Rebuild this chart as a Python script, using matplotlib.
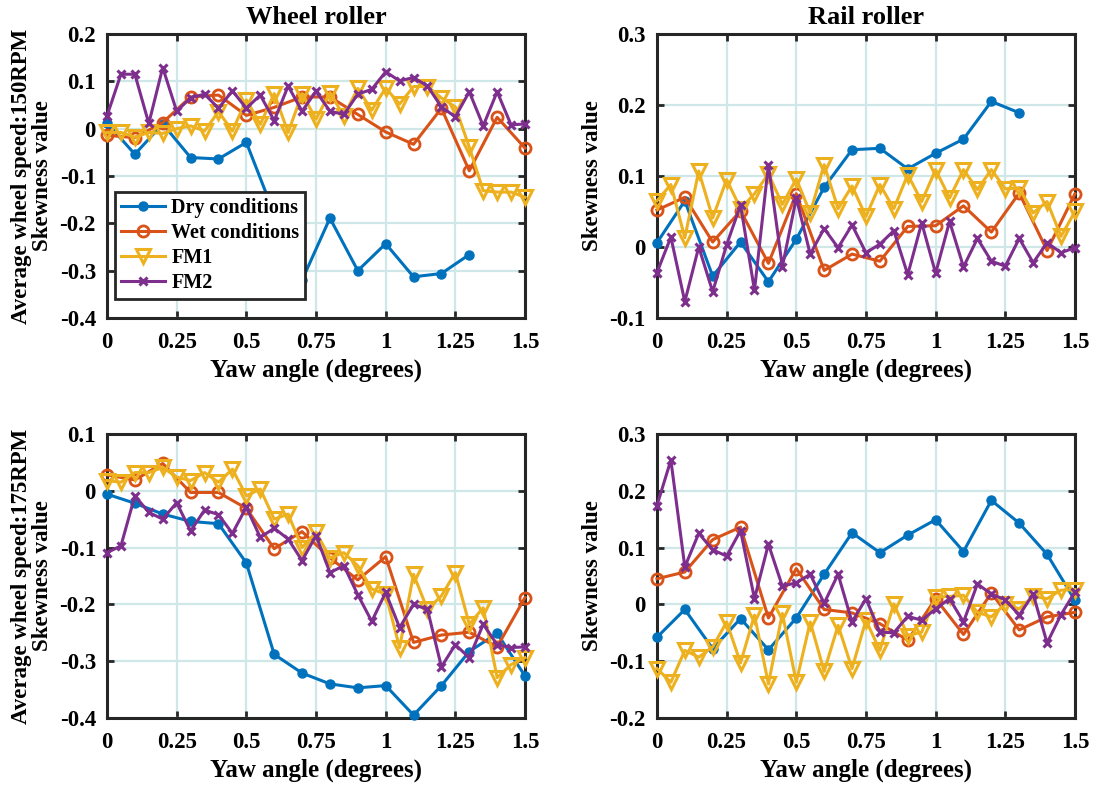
import numpy as np
import matplotlib
matplotlib.use("Agg")
import matplotlib.pyplot as plt

plt.rcParams['font.family'] = ['Liberation Serif', 'DejaVu Serif']
plt.rcParams['font.weight'] = 'bold'

# yaw angles
x_coarse = [0.0, 0.1, 0.2, 0.3, 0.4, 0.5, 0.6, 0.7, 0.8, 0.9, 1.0, 1.1, 1.2, 1.3, 1.4, 1.5]
x_fine = [0.0, 0.05, 0.1, 0.15, 0.2, 0.25, 0.3, 0.35, 0.4, 0.45, 0.5, 0.55, 0.6, 0.65, 0.7,
          0.75, 0.8, 0.85, 0.9, 0.95, 1.0, 1.05, 1.1, 1.15, 1.2, 1.25, 1.3, 1.35, 1.4, 1.45, 1.5]

# 150 RPM, wheel roller
dry_150_wheel = [0.012, -0.054, 0.01, -0.061, -0.064, -0.029, -0.18, -0.32, -0.189, -0.30,
                 -0.243, -0.313, -0.306, -0.266]
wet_150_wheel = [-0.014, -0.019, 0.013, 0.067, 0.071, 0.028, 0.045, 0.067, 0.067, 0.03,
                 -0.007, -0.033, 0.043, -0.089, 0.024, -0.041]
fm1_150_wheel = [-0.008, -0.008, -0.018, -0.008, -0.01, 0.0, 0.006, -0.005, 0.036, -0.005,
                 0.061, 0.009, 0.074, -0.008, 0.074, 0.02, 0.076, 0.027, 0.085, 0.039,
                 0.086, 0.052, 0.089, 0.089, 0.065, 0.046, -0.039, -0.131, -0.134, -0.134, -0.145]
fm2_150_wheel = [0.027, 0.115, 0.115, 0.011, 0.129, 0.037, 0.065, 0.073, 0.043, 0.080,
                 0.043, 0.071, 0.017, 0.090, 0.037, 0.079, 0.037, 0.030, 0.073, 0.083,
                 0.120, 0.101, 0.108, 0.090, 0.046, 0.025, 0.078, 0.006, 0.078, 0.008, 0.010]

# 150 RPM, rail roller
dry_150_rail = [0.006, 0.065, -0.041, 0.007, -0.049, 0.011, 0.084, 0.137, 0.139, 0.110,
                0.132, 0.152, 0.205, 0.189]
wet_150_rail = [0.052, 0.070, 0.007, 0.051, -0.023, 0.075, -0.033, -0.010, -0.020, 0.029,
                0.030, 0.058, 0.021, 0.076, -0.005, 0.075]
fm1_150_rail = [0.065, 0.088, 0.013, 0.107, 0.041, 0.095, 0.054, 0.075, 0.103, 0.060,
                0.096, 0.048, 0.116, 0.054, 0.086, 0.043, 0.088, 0.054, 0.102, 0.064,
                0.109, 0.069, 0.109, 0.081, 0.109, 0.082, 0.083, 0.048, 0.064, 0.015, 0.050]
fm2_150_rail = [-0.036, 0.014, -0.077, 0.0, -0.063, 0.003, 0.059, -0.061, 0.116, -0.028,
                0.069, -0.010, 0.026, -0.001, 0.031, -0.008, 0.004, 0.023, -0.039, 0.034,
                -0.037, 0.036, -0.028, 0.012, -0.020, -0.027, 0.012, -0.022, 0.006, -0.008, -0.001]

# 175 RPM, wheel roller
dry_175_wheel = [-0.006, -0.022, -0.041, -0.054, -0.058, -0.127, -0.288, -0.321, -0.340,
                 -0.347, -0.343, -0.395, -0.343, -0.283, -0.251, -0.326]
wet_175_wheel = [0.028, 0.019, 0.048, -0.003, -0.003, -0.031, -0.102, -0.072, -0.118,
                 -0.157, -0.116, -0.267, -0.254, -0.249, -0.275, -0.188]
fm1_175_wheel = [0.018, 0.015, 0.032, 0.032, 0.041, 0.024, 0.018, 0.032, 0.015, 0.038,
                 -0.009, 0.003, -0.05, -0.041, -0.1, -0.073, -0.118, -0.109, -0.132, -0.173,
                 -0.182, -0.276, -0.147, -0.209, -0.185, -0.144, -0.235, -0.206, -0.329, -0.306, -0.294]
fm2_175_wheel = [-0.109, -0.097, -0.009, -0.038, -0.05, -0.021, -0.071, -0.034, -0.042, -0.075,
                 -0.029, -0.082, -0.066, -0.085, -0.123, -0.079, -0.144, -0.132, -0.183, -0.230,
                 -0.179, -0.241, -0.2, -0.209, -0.310, -0.271, -0.294, -0.235, -0.271, -0.276, -0.275]

# 175 RPM, rail roller
dry_175_rail = [-0.058, -0.009, -0.078, -0.025, -0.080, -0.024, 0.053, 0.126, 0.091, 0.122,
                0.149, 0.093, 0.183, 0.143, 0.088, 0.007]
wet_175_rail = [0.045, 0.057, 0.114, 0.136, -0.024, 0.063, -0.009, -0.015, -0.034, -0.063,
                0.010, -0.053, 0.020, -0.045, -0.022, -0.014]
fm1_175_rail = [-0.113, -0.137, -0.081, -0.093, -0.075, -0.031, -0.103, -0.019, -0.140, -0.016,
                -0.137, -0.031, -0.118, -0.037, -0.113, -0.028, -0.081, 0.001, -0.055, -0.049,
                0.013, 0.014, 0.016, -0.014, -0.022, 0.001, -0.008, 0.014, 0.010, 0.025, 0.026]
fm2_175_rail = [0.174, 0.254, 0.066, 0.125, 0.096, 0.085, 0.130, 0.010, 0.106, 0.032,
                0.038, 0.053, 0.002, 0.053, -0.031, 0.010, -0.049, -0.050, -0.021, -0.028,
                -0.008, 0.010, -0.031, 0.036, 0.018, 0.008, -0.019, 0.018, -0.068, -0.018, 0.022]

labels = ['Dry conditions', 'Wet conditions', 'FM1', 'FM2']
xticks = [0, 0.25, 0.5, 0.75, 1, 1.25, 1.5]
xticklabels = ['0', '0.25', '0.5', '0.75', '1', '1.25', '1.5']

blue, red, yellow, purple = '#0072BD', '#D95319', '#EDB120', '#7E2F8E'


def draw(ax, dry, wet, fm1, fm2, ylim, yticks):
    ax.plot(x_coarse[:len(dry)], dry, '-o', color=blue, lw=2.2, ms=6.5,
            mfc=blue, mec=blue, clip_on=False, zorder=3, label=labels[0])
    ax.plot(x_coarse[:len(wet)], wet, '-o', color=red, lw=2.2, ms=8,
            mfc='none', mew=2, clip_on=False, zorder=3, label=labels[1])
    ax.plot(x_fine, fm1, '-v', color=yellow, lw=2.2, ms=10,
            mfc='none', mew=2.2, clip_on=False, zorder=3, label=labels[2])
    ax.plot(x_fine, fm2, '-x', color=purple, lw=2.2, ms=5.5,
            mew=2.2, clip_on=False, zorder=3, label=labels[3])
    ax.set_xlim(0, 1.5)
    ax.set_ylim(*ylim)
    ax.set_xticks(xticks)
    ax.set_xticklabels(xticklabels)
    ax.set_yticks(yticks)
    ax.set_yticklabels(['0' if abs(t) < 1e-9 else f'{t:g}' for t in yticks])
    ax.grid(True, color='#cfe7e7', lw=1.6)
    ax.set_axisbelow(True)
    ax.tick_params(direction='in', length=5, width=2, top=True, right=True,
                   labelsize=16.5, pad=8, color='#262626')
    ax.tick_params(axis='x', pad=10)
    for s in ax.spines.values():
        s.set_linewidth(2.2)
        s.set_color('#262626')
    ax.set_xlabel('Yaw angle (degrees)', fontsize=18, fontweight='bold', labelpad=4)


fig = plt.figure(figsize=(10.94, 7.85), dpi=100)
w, h = 0.3821, 0.3618
ax1 = fig.add_axes([0.0978, 0.5949, w, h])
ax2 = fig.add_axes([0.6005, 0.5949, w, h])
ax3 = fig.add_axes([0.0978, 0.0854, w, h])
ax4 = fig.add_axes([0.6005, 0.0854, w, h])

draw(ax1, dry_150_wheel, wet_150_wheel, fm1_150_wheel, fm2_150_wheel,
     (-0.4, 0.2), [-0.4, -0.3, -0.2, -0.1, 0, 0.1, 0.2])
draw(ax2, dry_150_rail, wet_150_rail, fm1_150_rail, fm2_150_rail,
     (-0.1, 0.3), [-0.1, 0, 0.1, 0.2, 0.3])
draw(ax3, dry_175_wheel, wet_175_wheel, fm1_175_wheel, fm2_175_wheel,
     (-0.4, 0.1), [-0.4, -0.3, -0.2, -0.1, 0, 0.1])
draw(ax4, dry_175_rail, wet_175_rail, fm1_175_rail, fm2_175_rail,
     (-0.2, 0.3), [-0.2, -0.1, 0, 0.1, 0.2, 0.3])

ax1.set_title('Wheel roller', fontsize=19, fontweight='bold', pad=7)
ax2.set_title('Rail roller', fontsize=19, fontweight='bold', pad=7)
ax1.set_ylabel('Average wheel speed:150RPM\nSkewness value', fontsize=16.5,
               fontweight='bold', labelpad=5, linespacing=1.0)
ax3.set_ylabel('Average wheel speed:175RPM\nSkewness value', fontsize=16.5,
               fontweight='bold', labelpad=5, linespacing=1.0)
ax2.set_ylabel('Skewness value', fontsize=16.5, fontweight='bold', labelpad=5)
ax4.set_ylabel('Skewness value', fontsize=16.5, fontweight='bold', labelpad=5)

leg = ax1.legend(loc='lower left', bbox_to_anchor=(0.019, 0.067), borderaxespad=0,
                 fancybox=False, framealpha=1, edgecolor='#262626',
                 prop={'size': 14.5, 'weight': 'bold'}, handlelength=2.2,
                 handletextpad=0.3, labelspacing=0.25, borderpad=0.3)
leg.get_frame().set_linewidth(2)
leg.set_zorder(10)

fig.savefig('out.png', dpi=100)
